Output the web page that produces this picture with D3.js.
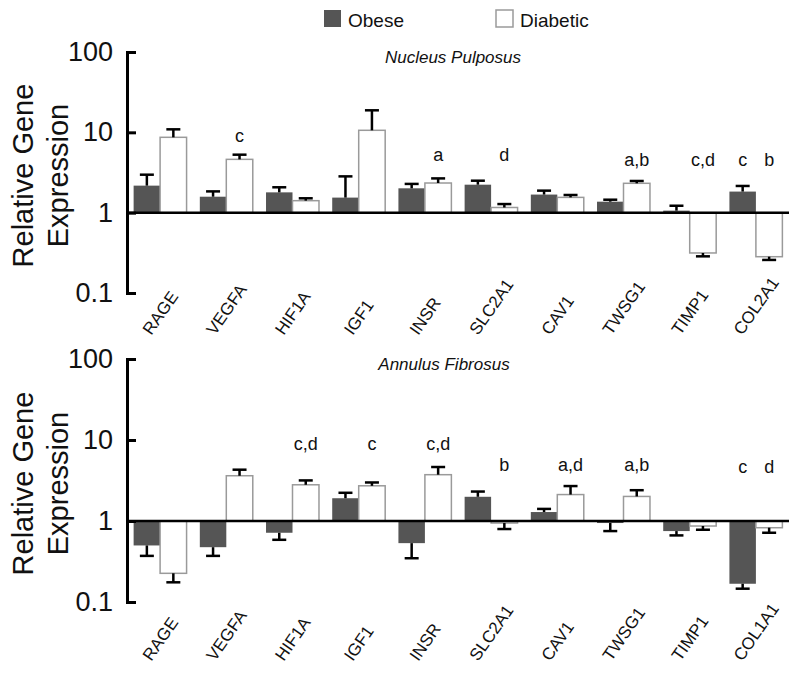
<!DOCTYPE html>
<html lang="en">
<head>
<meta charset="utf-8">
<title>Relative Gene Expression</title>
<style>
  body { margin: 0; background: #fff; }
  svg { display: block; font-family: "Liberation Sans", Arial, sans-serif; }
  .bar-obese { fill: #555; }
  .bar-diabetic { fill: #fff; stroke: #9a9a9a; stroke-width: 1.5; }
  .err { stroke: #000; stroke-width: 2.5; fill: none; }
  .axis path, .axis line { stroke: #000; stroke-width: 3; }
  .baseline { stroke: #000; stroke-width: 2.5; }
</style>
</head>
<body>
<svg id="chart" width="800" height="676"></svg>
<script src="https://cdnjs.cloudflare.com/ajax/libs/d3/7.8.5/d3.min.js"></script>
<script>
// ---- data ----
var seriesNames = ["Obese", "Diabetic"];
var yTicks = [0.1, 1, 10, 100];
var yTickLabels = ["0.1", "1", "10", "100"];

var npGenes = ["RAGE", "VEGFA", "HIF1A", "IGF1", "INSR", "SLC2A1", "CAV1", "TWSG1", "TIMP1", "COL2A1"];
var npObese = [2.17, 1.58, 1.79, 1.54, 2.01, 2.23, 1.68, 1.37, 1.06, 1.83];
var npObeseErr = [2.97, 1.84, 2.07, 2.83, 2.28, 2.50, 1.88, 1.45, 1.22, 2.15];
var npDiabetic = [8.67, 4.61, 1.41, 10.6, 2.34, 1.16, 1.55, 2.32, 0.315, 0.283];
var npDiabeticErr = [10.9, 5.27, 1.51, 18.8, 2.67, 1.28, 1.66, 2.48, 0.286, 0.258];
var npMarks = [
  {gene: "VEGFA", series: "Diabetic", text: "c", at: 7.5},
  {gene: "INSR", series: "Diabetic", text: "a", at: 4.4},
  {gene: "SLC2A1", series: "Diabetic", text: "d", at: 4.4},
  {gene: "TWSG1", series: "Diabetic", text: "a,b", at: 3.85},
  {gene: "TIMP1", series: "Diabetic", text: "c,d", at: 3.85},
  {gene: "COL2A1", series: "Obese", text: "c", at: 3.85},
  {gene: "COL2A1", series: "Diabetic", text: "b", at: 3.85}
];

var afGenes = ["RAGE", "VEGFA", "HIF1A", "IGF1", "INSR", "SLC2A1", "CAV1", "TWSG1", "TIMP1", "COL1A1"];
var afObese = [0.499, 0.475, 0.716, 1.91, 0.533, 1.99, 1.29, 0.944, 0.751, 0.168];
var afObeseErr = [0.371, 0.371, 0.586, 2.23, 0.347, 2.31, 1.41, 0.751, 0.664, 0.146];
var afDiabetic = [0.226, 3.62, 2.80, 2.72, 3.73, 0.944, 2.12, 2.01, 0.867, 0.826];
var afDiabeticErr = [0.175, 4.30, 3.17, 2.99, 4.64, 0.796, 2.70, 2.40, 0.780, 0.716];
var afMarks = [
  {gene: "HIF1A", series: "Diabetic", text: "c,d", at: 7.5},
  {gene: "IGF1", series: "Diabetic", text: "c", at: 7.6},
  {gene: "INSR", series: "Diabetic", text: "c,d", at: 7.5},
  {gene: "SLC2A1", series: "Diabetic", text: "b", at: 4.18},
  {gene: "CAV1", series: "Diabetic", text: "a,d", at: 4.18},
  {gene: "TWSG1", series: "Diabetic", text: "a,b", at: 4.18},
  {gene: "COL1A1", series: "Obese", text: "c", at: 3.95},
  {gene: "COL1A1", series: "Diabetic", text: "d", at: 3.95}
];

// ---- drawing ----
var svg = d3.select("#chart");
var xLeft = 127, xRight = 789;
var labelAngle = 55, labelSize = 17;

// legend
var legend = svg.append("g");
seriesNames.forEach(function (name, i) {
  var lx = i === 0 ? 324 : 496;
  legend.append("rect")
    .attr("class", i === 0 ? "bar-obese" : "bar-diabetic")
    .attr("x", lx).attr("y", 10).attr("width", 17).attr("height", 17);
  legend.append("text")
    .attr("x", lx + 24).attr("y", 27)
    .attr("font-size", 19).attr("fill", "#111")
    .text(name);
});

function panel(opts) {
  var g = svg.append("g");
  var y = d3.scaleLog().domain([0.1, 100]).range([opts.bottom, opts.top]);
  var x = d3.scaleBand().domain(opts.genes).range([xLeft, xRight])
    .paddingInner(0.2).paddingOuter(0.1);
  var xs = d3.scaleBand().domain(seriesNames).range([0, x.bandwidth()]);

  var rows = opts.genes.map(function (gene, i) {
    return [
      {gene: gene, series: "Obese", v: opts.obese[i], e: opts.obeseErr[i]},
      {gene: gene, series: "Diabetic", v: opts.diabetic[i], e: opts.diabeticErr[i]}
    ];
  });
  var flat = d3.merge(rows);
  var y1 = y(1);

  var groups = g.selectAll(".grp").data(rows).enter().append("g")
    .attr("transform", function (d) { return "translate(" + x(d[0].gene) + ",0)"; });

  groups.selectAll("rect").data(function (d) { return d; }).enter().append("rect")
    .attr("class", function (d) { return d.series === "Obese" ? "bar-obese" : "bar-diabetic"; })
    .attr("x", function (d) { return xs(d.series); })
    .attr("width", xs.bandwidth())
    .attr("y", function (d) { return Math.min(y(d.v), y1); })
    .attr("height", function (d) { return Math.abs(y(d.v) - y1); });

  // error bars
  var err = g.selectAll(".errg").data(flat).enter().append("g")
    .attr("transform", function (d) { return "translate(" + (x(d.gene) + xs(d.series) + xs.bandwidth() / 2) + ",0)"; });
  err.append("line").attr("class", "err")
    .attr("x1", 0).attr("x2", 0)
    .attr("y1", function (d) { return y(d.v); })
    .attr("y2", function (d) { return y(d.e); });
  err.append("line").attr("class", "err")
    .attr("x1", -7).attr("x2", 7)
    .attr("y1", function (d) { return y(d.e); })
    .attr("y2", function (d) { return y(d.e); });

  // baseline at 1
  g.append("line").attr("class", "baseline")
    .attr("x1", xLeft).attr("x2", xRight)
    .attr("y1", y1).attr("y2", y1);

  // y axis, ticks pointing inward
  var axis = d3.axisLeft(y).tickValues(yTicks)
    .tickFormat(function (d, i) { return yTickLabels[i]; })
    .tickSizeInner(-9).tickSizeOuter(0).tickPadding(14);
  var ag = g.append("g").attr("class", "axis")
    .attr("transform", "translate(" + xLeft + ",0)").call(axis);
  ag.selectAll("text").attr("font-size", 27).attr("fill", "#111")
    .attr("font-family", "Liberation Sans, Arial, sans-serif");
  ag.select(".domain").attr("stroke-linecap", "square");

  // category labels: rotated, box centred under the group, bottoms aligned
  var a = labelAngle * Math.PI / 180, cap = 0.72 * labelSize;
  g.selectAll(".xl").data(opts.genes).enter().append("text")
    .attr("text-anchor", "start")
    .attr("font-size", labelSize).attr("fill", "#111")
    .text(function (d) { return d; })
    .attr("transform", function (d) {
      var len = this.getComputedTextLength();
      var sx = x(d) + x.bandwidth() / 2 - (len * Math.cos(a) - cap * Math.sin(a)) / 2;
      return "translate(" + sx + "," + opts.labelBottom + ") rotate(" + (-labelAngle) + ")";
    });

  // significance letters
  g.selectAll(".mk").data(opts.marks).enter().append("text")
    .attr("text-anchor", "middle")
    .attr("font-size", 18).attr("fill", "#111")
    .attr("x", function (d) { return x(d.gene) + xs(d.series) + xs.bandwidth() / 2; })
    .attr("y", function (d) { return y(d.at); })
    .text(function (d) { return d.text; });

  // panel title
  g.append("text")
    .attr("x", opts.titleX).attr("y", opts.top + 11)
    .attr("text-anchor", "middle").attr("font-size", 17)
    .attr("font-style", "italic").attr("fill", "#111")
    .text(opts.title);

  // y title
  var cy = (opts.top + opts.bottom) / 2 + 3;
  var yt = g.append("text")
    .attr("transform", "translate(33," + cy + ") rotate(-90)")
    .attr("text-anchor", "middle").attr("font-size", 29).attr("fill", "#111");
  yt.append("tspan").attr("x", 0).attr("y", 0).text("Relative Gene");
  yt.append("tspan").attr("x", 0).attr("y", 35).text("Expression");
}

panel({
  genes: npGenes, obese: npObese, obeseErr: npObeseErr,
  diabetic: npDiabetic, diabeticErr: npDiabeticErr, marks: npMarks,
  top: 52, bottom: 293, labelBottom: 336,
  title: "Nucleus Pulposus", titleX: 453
});
panel({
  genes: afGenes, obese: afObese, obeseErr: afObeseErr,
  diabetic: afDiabetic, diabeticErr: afDiabeticErr, marks: afMarks,
  top: 359, bottom: 602, labelBottom: 662,
  title: "Annulus Fibrosus", titleX: 444
});
</script>
</body>
</html>
